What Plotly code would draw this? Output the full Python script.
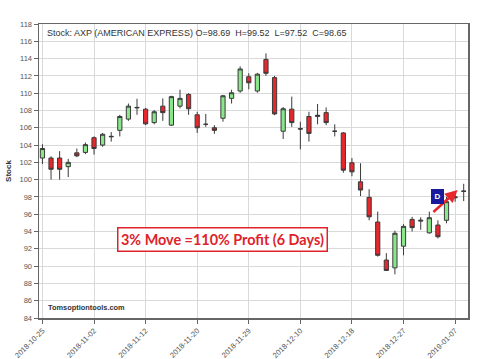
import plotly.graph_objects as go

dates = ["2018-10-25","2018-10-26","2018-10-29","2018-10-30","2018-10-31","2018-11-01","2018-11-02",
         "2018-11-05","2018-11-06","2018-11-07","2018-11-08","2018-11-09","2018-11-12","2018-11-13",
         "2018-11-14","2018-11-15","2018-11-16","2018-11-19","2018-11-20","2018-11-21","2018-11-23",
         "2018-11-26","2018-11-27","2018-11-28","2018-11-29","2018-11-30","2018-12-03","2018-12-04",
         "2018-12-06","2018-12-07","2018-12-10","2018-12-11","2018-12-12","2018-12-13","2018-12-14",
         "2018-12-17","2018-12-18","2018-12-19","2018-12-20","2018-12-21","2018-12-24","2018-12-26",
         "2018-12-27","2018-12-28","2018-12-31","2019-01-02","2019-01-03","2019-01-04","2019-01-07",
         "2019-01-08"]
opens  = [102.5,102.5,102.5,101.5,103.1,103.15,104.85,104.0,104.95,105.7,107.0,108.3,108.15,106.6,
          108.5,106.3,108.5,109.85,107.5,106.4,106.0,107.1,109.4,110.25,111.9,110.25,113.9,111.8,
          105.6,108.15,105.9,107.3,107.3,107.75,105.6,105.4,101.95,99.75,97.95,95.1,90.7,89.8,
          92.3,95.4,95.2,93.85,94.75,95.3,97.9,98.69]
highs  = [104.1,102.7,103.3,102.4,103.6,104.3,105.0,105.4,105.5,107.5,108.8,109.35,108.3,108.05,
          109.4,109.7,110.4,110.0,107.85,107.6,106.3,109.8,110.4,113.1,112.3,112.35,114.6,112.0,
          108.4,109.6,106.7,107.85,108.75,108.35,106.4,105.5,102.5,101.9,98.9,96.3,91.5,94.1,
          94.85,95.7,95.65,96.3,95.3,98.0,98.6,99.52]
lows   = [101.8,100.0,100.0,100.3,102.6,102.95,102.9,103.8,104.4,105.0,106.8,107.5,106.3,106.4,
          106.8,106.2,108.25,107.5,105.4,106.1,105.3,106.7,108.8,110.05,110.45,110.05,112.0,107.45,
          104.7,106.1,103.5,104.4,106.4,106.3,105.0,100.8,100.4,98.1,95.3,91.1,89.45,89.05,
          91.25,94.0,94.2,93.75,93.2,94.95,97.45,97.52]
closes = [103.6,101.2,101.2,102.0,102.75,104.05,103.6,105.25,105.0,107.3,108.5,108.35,106.45,107.85,
          107.75,109.6,109.4,108.2,106.0,106.4,105.7,109.7,110.05,112.8,111.2,112.2,112.3,107.6,
          108.2,106.6,105.85,105.35,107.45,106.6,105.6,101.1,100.9,98.8,95.7,91.25,89.5,93.8,
          94.6,94.45,95.3,95.6,93.4,97.45,98.0,98.65]

tick_dates = dates[::6]
y_ticks = list(range(84, 119, 2))
header = "Stock: AXP (AMERICAN EXPRESS) O=98.69  H=99.52  L=97.52  C=98.65"
callout = "3% Move =110% Profit (6 Days)"
watermark = "Tomsoptiontools.com"

fig = go.Figure()
fig.add_trace(go.Candlestick(
    x=dates, open=opens, high=highs, low=lows, close=closes,
    increasing=dict(fillcolor="#8AE68A", line=dict(color="#3a3a3a", width=1)),
    decreasing=dict(fillcolor="#E8272C", line=dict(color="#3a3a3a", width=1)),
    whiskerwidth=0, showlegend=False, hoverinfo="skip"))

fig.update_layout(
    width=500, height=359,
    margin=dict(l=39, r=32, t=24, b=41),
    paper_bgcolor="white", plot_bgcolor="white",
    font=dict(family="Liberation Sans, Arial, sans-serif", size=8, color="#555555"),
    boxgap=0.3,
    xaxis=dict(type="category", range=[-0.4, 49.5], rangeslider=dict(visible=False),
               automargin=False,
               tickmode="array", tickvals=tick_dates, ticktext=tick_dates,
               tickangle=-45, tickfont=dict(size=7.5, color="#555555"),
               ticks="outside", ticklen=4, tickcolor="#666666",
               showgrid=True, gridcolor="#d9d9d9", gridwidth=1,
               showline=True, linecolor="#666666", linewidth=1.5, mirror=True, zeroline=False),
    yaxis=dict(range=[84, 118], tickmode="array", tickvals=y_ticks, automargin=False,
               tickfont=dict(size=7.5, color="#555555"),
               ticks="outside", ticklen=4, tickcolor="#666666",
               showgrid=True, gridcolor="#d9d9d9", gridwidth=1,
               showline=True, linecolor="#666666", linewidth=1.5, mirror=True, zeroline=False,
               title=dict(text="<b>Stock</b>", font=dict(size=8, color="#333333"), standoff=6)),
)

fig.add_annotation(xref="paper", yref="paper", x=0.014, y=0.97, xanchor="left", yanchor="middle",
                   text=header, showarrow=False, font=dict(size=9, color="#333333"))
fig.add_annotation(xref="paper", yref="paper", x=0.016, y=0.035, xanchor="left", yanchor="middle",
                   text="<b>" + watermark + "</b>", showarrow=False, font=dict(size=7.4, color="#333333"))
fig.add_annotation(x=20.95, y=93.05, xanchor="center", yanchor="middle",
                   text="<b>" + callout + "</b>", showarrow=False,
                   font=dict(family="Lato, sans-serif", size=14.4, color="#E0222A"),
                   bordercolor="#E0222A", borderwidth=1.5, borderpad=2.5, bgcolor="white")
fig.add_annotation(x=48.3, y=98.8, ax=45.3, ay=96.1, axref="x", ayref="y",
                   text="", showarrow=True, arrowhead=2, arrowsize=1, arrowwidth=2.5,
                   arrowcolor="#E8272C")
fig.add_annotation(x=45.9, y=98.0, text="<b>D</b>", showarrow=False,
                   font=dict(size=8, color="white"), bgcolor="#1A1A9C",
                   borderpad=2, bordercolor="#1A1A9C", width=7)

fig.write_html("out.html",
               config={"displayModeBar": False, "staticPlot": True},
               post_script="document.body.style.margin='0';document.body.style.padding='0';"
                           "document.documentElement.style.overflow='hidden';")
